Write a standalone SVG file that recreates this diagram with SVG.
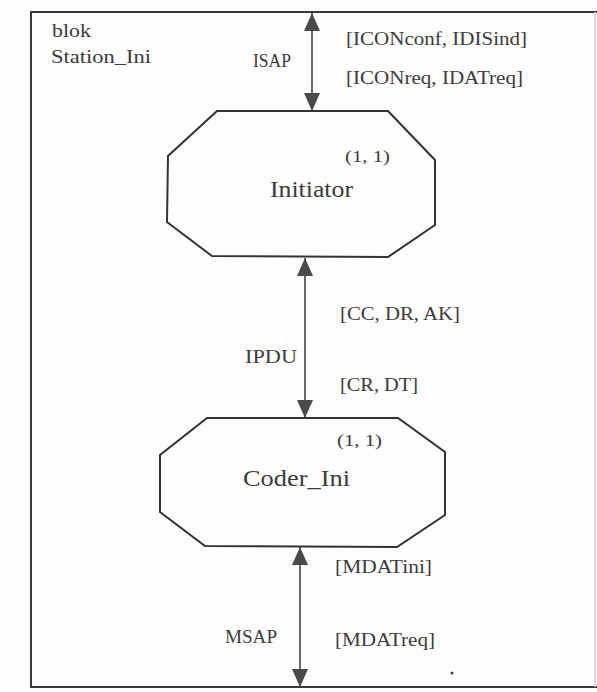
<svg xmlns="http://www.w3.org/2000/svg" width="597" height="692" viewBox="0 0 597 692">
<style>
.frame{fill:none;stroke:#3a3a3a;stroke-width:2}
.faint{stroke:#d0d0d0;stroke-width:1.5}
.node{fill:#fdfdfd;stroke:#333;stroke-width:2}
.conn{stroke:#444;stroke-width:1.6;fill:none;marker-start:url(#ah);marker-end:url(#ah)}
text{font-family:"Liberation Serif","Times New Roman",serif;fill:#3c3c3c}
.lbl{font-size:18px}
.big{font-size:23px}
.mult{font-size:17px}
</style>
<defs>
<marker id="ah" viewBox="0 0 18 16" refX="18" refY="8" markerWidth="18" markerHeight="16" markerUnits="userSpaceOnUse" orient="auto-start-reverse">
<path d="M0,0 L18,8 L0,16 z" fill="#4a4a4a"/>
</marker>
</defs>
<rect width="597" height="692" fill="#fdfdfd"/>
<g id="block">
<polyline class="frame" points="597,12 31,12 31,687 597,687"/>
<line class="faint" x1="595" y1="12" x2="595" y2="687"/>
<text class="lbl" x="52" y="37" textLength="39" lengthAdjust="spacingAndGlyphs">blok</text>
<text class="lbl" x="51" y="63" textLength="100" lengthAdjust="spacingAndGlyphs">Station_Ini</text>
</g>
<g id="connectors">
<line class="conn" x1="312" y1="13" x2="312" y2="111"/>
<line class="conn" x1="305" y1="258" x2="305" y2="418"/>
<line class="conn" x1="300" y1="547" x2="300" y2="687"/>
<text class="lbl" x="253" y="67" textLength="38" lengthAdjust="spacingAndGlyphs">ISAP</text>
<text class="lbl" x="346" y="45" textLength="181" lengthAdjust="spacingAndGlyphs">[ICONconf, IDISind]</text>
<text class="lbl" x="346" y="84" textLength="177" lengthAdjust="spacingAndGlyphs">[ICONreq, IDATreq]</text>
<text class="lbl" x="340" y="320" textLength="120" lengthAdjust="spacingAndGlyphs">[CC, DR, AK]</text>
<text class="lbl" x="245" y="363" textLength="52" lengthAdjust="spacingAndGlyphs">IPDU</text>
<text class="lbl" x="340" y="391" textLength="78" lengthAdjust="spacingAndGlyphs">[CR, DT]</text>
<text class="lbl" x="335" y="573" textLength="97" lengthAdjust="spacingAndGlyphs">[MDATini]</text>
<text class="lbl" x="225" y="643" textLength="52" lengthAdjust="spacingAndGlyphs">MSAP</text>
<text class="lbl" x="335" y="646" textLength="100" lengthAdjust="spacingAndGlyphs">[MDATreq]</text>
</g>
<g id="Initiator">
<polygon class="node" points="217,111 388,111 435,160 435,225 388,257 212,256 167,222 168,156"/>
<text class="mult" x="345" y="162" textLength="45" lengthAdjust="spacingAndGlyphs">(1, 1)</text>
<text class="big" x="270" y="197" textLength="83" lengthAdjust="spacingAndGlyphs">Initiator</text>
</g>
<g id="Coder_Ini">
<polygon class="node" points="207,418 398,418 445,452 445,515 397,547 205,546 160,512 160,455"/>
<text class="mult" x="337" y="446" textLength="45" lengthAdjust="spacingAndGlyphs">(1, 1)</text>
<text class="big" x="243" y="486" textLength="107" lengthAdjust="spacingAndGlyphs">Coder_Ini</text>
</g>
<circle cx="452" cy="673" r="1.5" fill="#444"/>
</svg>
